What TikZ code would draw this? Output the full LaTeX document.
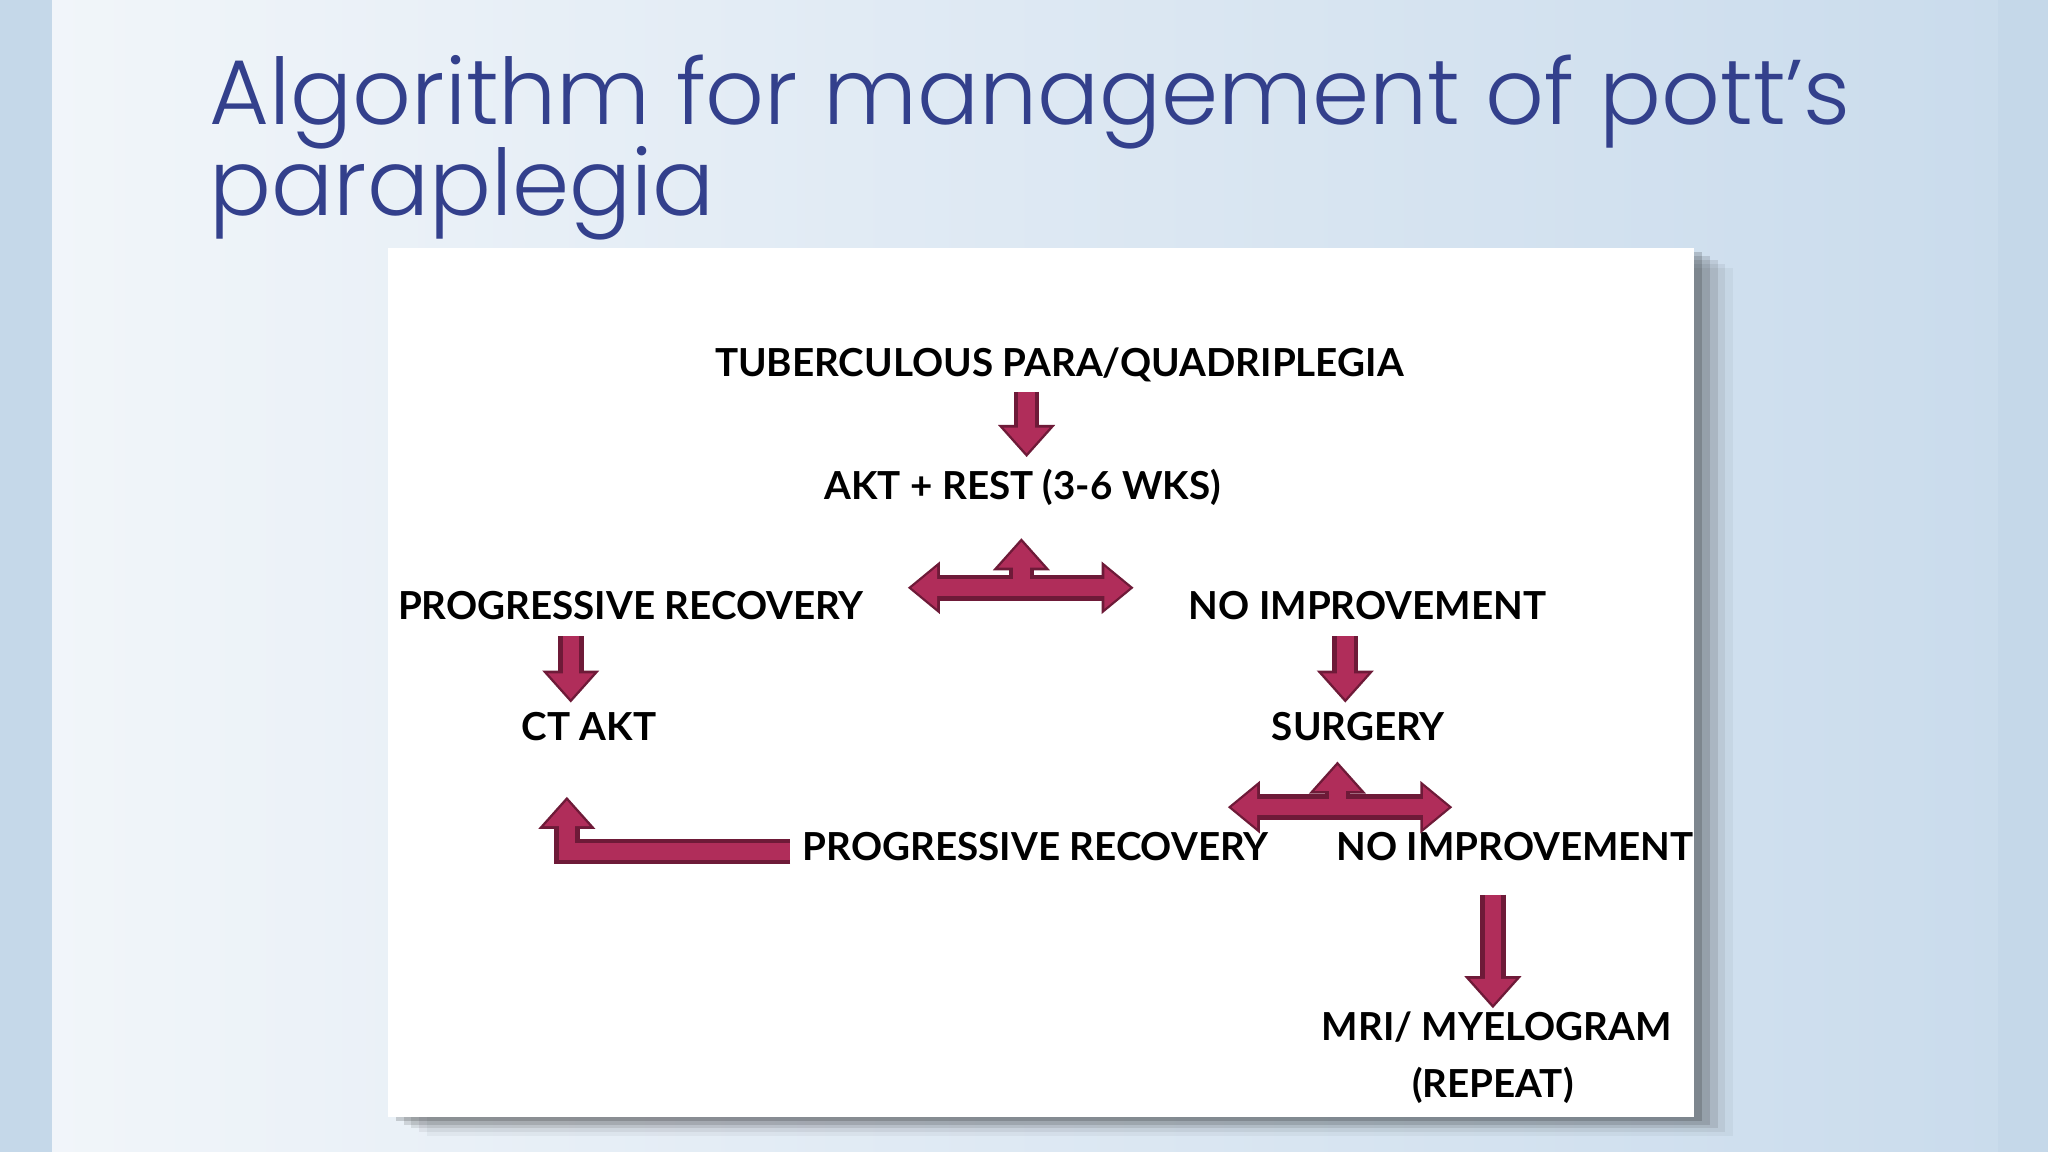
\documentclass[tikz,border=0pt]{standalone}
\usepackage{fontspec}
\setmainfont{Lato}
\newfontfamily\titlefont{Poppins Light}
\usetikzlibrary{arrows.meta}
\definecolor{titleblue}{HTML}{33408C}
\definecolor{arrfill}{HTML}{B02D5A}
\definecolor{arrdark}{HTML}{6E1A38}
\definecolor{bgA}{HTML}{F2F6FA}
\definecolor{bgB}{HTML}{C9DBEC}
\definecolor{strip}{HTML}{C5D8E9}
\tikzset{
  lbl/.style={font=\fontsize{8.4pt}{10pt}\selectfont\bfseries, text=black, inner sep=0pt},
  barO/.style={line width=5.6pt, arrdark},
  barI/.style={line width=3.6pt, arrfill},
  arrO/.style={barO, -{Triangle[length=7pt,width=12pt]}},
  arrI/.style={barI, -{Triangle[length=5.6pt,width=9.6pt]}, shorten >=0.8pt},
  arrDO/.style={barO, {Triangle[length=7pt,width=11pt]}-{Triangle[length=7pt,width=11pt]}},
  arrDI/.style={barI, {Triangle[length=5.6pt,width=8.8pt]}-{Triangle[length=5.6pt,width=8.8pt]}, shorten >=0.8pt, shorten <=0.8pt},
}
\newcommand{\blk}[2]{\draw[arrO] (#1) -- (#2); \draw[arrI] (#1) -- (#2);}
\begin{document}
\begin{tikzpicture}[x=0.01cm,y=-0.01cm]
\useasboundingbox (0,0) rectangle (1568,882);
\shade[left color=bgA, right color=bgB] (0,0) rectangle (1568,882);
\fill[strip] (0,0) rectangle (40,882);
\fill[strip] (1530,0) rectangle (1568,882);
% shadow
\foreach \o/\op in {30/0.04,24/0.06,18/0.09,12/0.12,6/0.16}{
  \fill[black, opacity=\op] (297+\o,190+\o*0.5) rectangle (1297+\o,855+\o*0.5);}
\fill[white] (297,190) rectangle (1297,855);
% title
\node[anchor=base west, inner sep=0, text=titleblue, font=\titlefont\fontsize{20pt}{20pt}\selectfont] (t1) at (160,95) {Algorithm for management of pott’s};
\node[anchor=base west, inner sep=0, text=titleblue, font=\titlefont\fontsize{20pt}{20pt}\selectfont] (t2) at (160,165) {paraplegia};
% labels
\node[lbl] (tb) at (811,279) {TUBERCULOUS PARA/QUADRIPLEGIA};
\node[lbl] (akt) at (783,373) {AKT + REST (3-6 WKS)};
\node[lbl] (pr1) at (483,464) {PROGRESSIVE RECOVERY};
\node[lbl] (ni1) at (1047,464) {NO IMPROVEMENT};
\node[lbl] (ct) at (451,556) {CT AKT};
\node[lbl] (sg) at (1040,556) {SURGERY};
\node[lbl] (pr2) at (793,648) {PROGRESSIVE RECOVERY};
\node[lbl] (ni2) at (1160,648) {NO IMPROVEMENT};
\node[lbl] (mri) at (1146,786) {MRI/ MYELOGRAM};
\node[lbl] (rep) at (1143,831) {(REPEAT)};
% coordinates
\coordinate (a1s) at (786,300); \coordinate (a1e) at (786,350);
\coordinate (b1l) at (695,450); \coordinate (b1r) at (868,450);
\coordinate (b1s) at (782,452); \coordinate (b1e) at (782,412);
\coordinate (c1s) at (437,487); \coordinate (c1e) at (437,538);
\coordinate (d1s) at (1030,487); \coordinate (d1e) at (1030,538);
\coordinate (e1l) at (940,618); \coordinate (e1r) at (1112,618);
\coordinate (e1s) at (1024,620); \coordinate (e1e) at (1024,583);
\coordinate (f1s) at (605,652); \coordinate (f1m) at (434,652); \coordinate (f1e) at (434,610);
\coordinate (g1s) at (1143,685); \coordinate (g1e) at (1143,772);
% arrows
\blk{a1s}{a1e}
\draw[arrO] (b1s) -- (b1e); \draw[arrDO] (b1l) -- (b1r);
\draw[arrI] (b1s) -- (b1e); \draw[arrDI] (b1l) -- (b1r);
\blk{c1s}{c1e}
\blk{d1s}{d1e}
\draw[arrO] (e1s) -- (e1e); \draw[arrDO] (e1l) -- (e1r);
\draw[arrI] (e1s) -- (e1e); \draw[arrDI] (e1l) -- (e1r);
\draw[arrO] (f1s) -- (f1m) -- (f1e); \draw[arrI] (f1s) -- (f1m) -- (f1e);
\blk{g1s}{g1e}
\end{tikzpicture}
\end{document}
